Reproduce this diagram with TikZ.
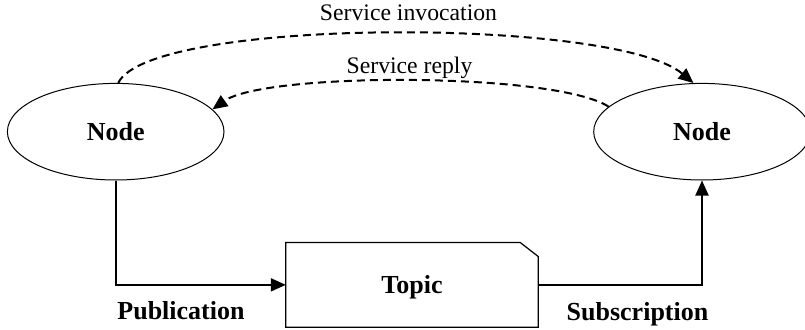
\documentclass[tikz,border=0pt]{standalone}
\usepackage{fontspec}
\setmainfont{Liberation Serif}
\usetikzlibrary{arrows.meta,shapes.geometric}

\tikzset{
  nodeoval/.style={ellipse, draw, line width=1pt, minimum width=216.6pt,
    minimum height=96.6pt, inner sep=0pt, text depth=0pt,
    font=\bfseries\fontsize{26}{30}\selectfont},
  topicbox/.style={rectangle, minimum width=252pt, minimum height=84.3pt,
    inner sep=0pt, text depth=0pt, font=\bfseries\fontsize{26}{30}\selectfont},
  boxline/.style={line width=1.2pt, line join=miter},
  flowlabel/.style={anchor=base, inner sep=0pt, font=\bfseries\fontsize{26}{30}\selectfont},
  calllabel/.style={anchor=base, inner sep=0pt, font=\fontsize{23.7}{28}\selectfont},
  tip/.style={-{Triangle[length=15pt,width=13pt]}},
  flow/.style={tip, line width=2pt},
  call/.style={tip, line width=2pt, dash pattern=on 8pt off 5pt}
}

\begin{document}
\begin{tikzpicture}[x=1pt,y=-1pt]
\useasboundingbox (0,0) rectangle (805,329);

% the two communicating nodes
\node[nodeoval] (L) at (115.7,131.7) {Node};
\node[nodeoval] (R) at (702,131.7) {Node};

% topic box with one clipped corner
\node[topicbox] (T) at (412,284.85) {Topic};
\draw[boxline] (T.north west) -- ([xshift=-18pt]T.north east)
  -- ([yshift=-14pt]T.north east) -- (T.south east)
  -- (T.south west) -- cycle;

% publish / subscribe
\draw[flow] (L.south) |- (T.west);
\draw[flow] (T.east) -| (R.south);
\node[flowlabel] (pub) at (181,319) {Publication};
\node[flowlabel] (sub) at (637.5,320) {Subscription};

% service call and its reply
\draw[call] (L.87) .. controls (150,17) and (615,17) .. (R.100);
\draw[call] (R.165) .. controls (555,72) and (265,72) .. (L.13);
\node[calllabel] (inv) at (408.5,20.7) {Service invocation};
\node[calllabel] (rep) at (409.5,73.3) {Service reply};
\end{tikzpicture}
\end{document}
